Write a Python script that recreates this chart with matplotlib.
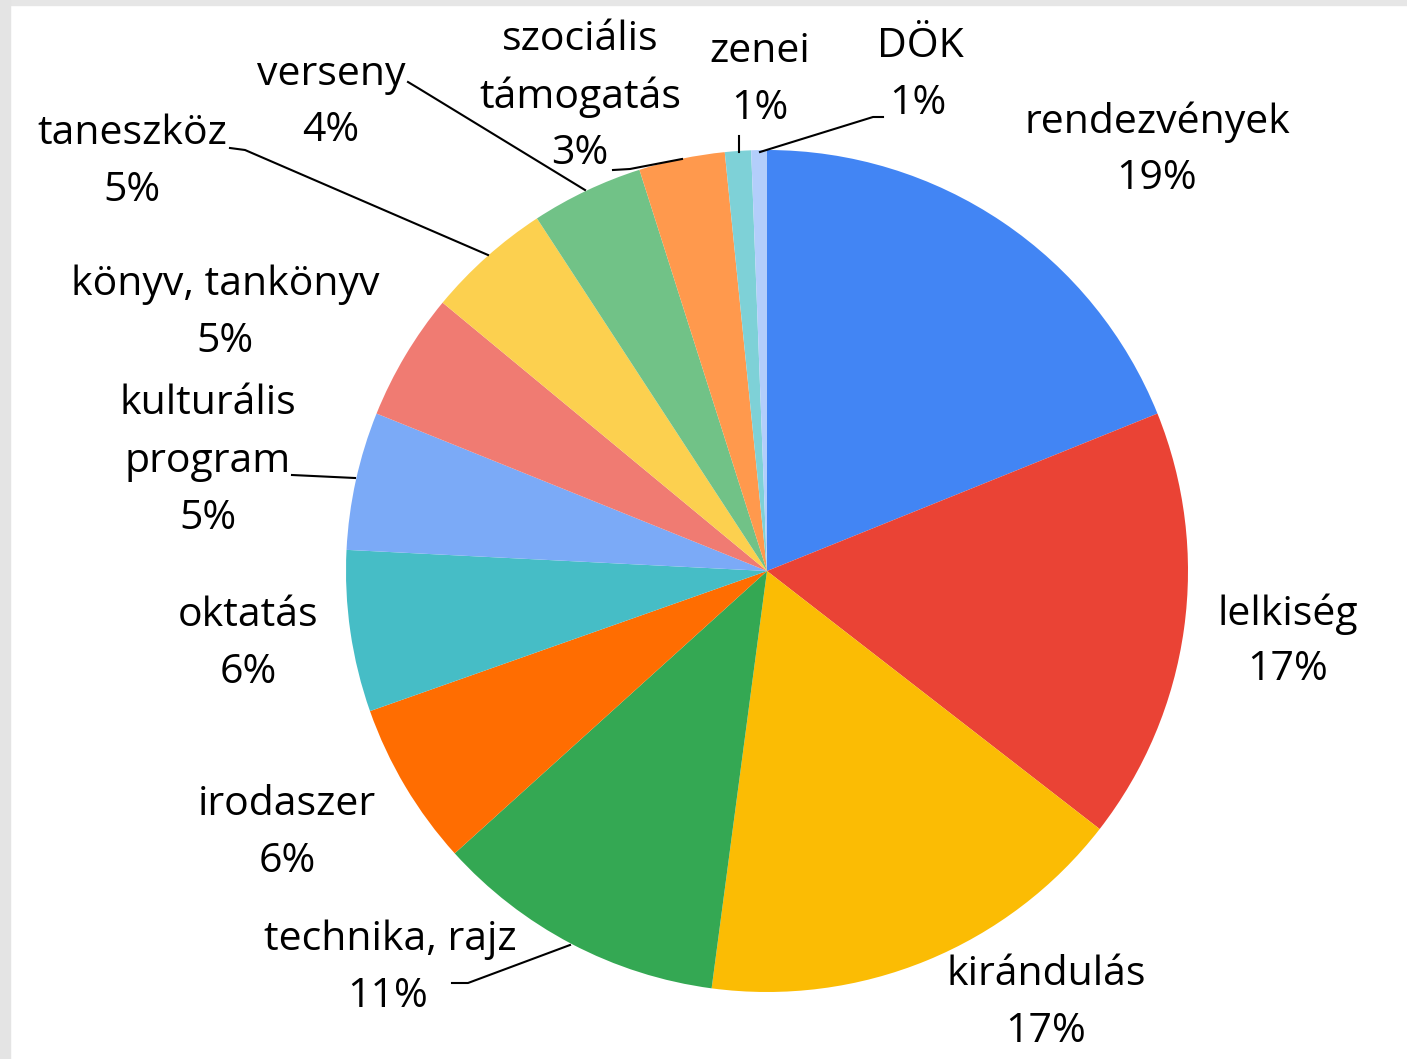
import numpy as np
import matplotlib.pyplot as plt
from matplotlib.patches import Rectangle

# slice data (clockwise from top)
categories = ['rendezvények', 'lelkiség', 'kirándulás', 'technika, rajz', 'irodaszer',
              'oktatás', 'kulturális program', 'könyv, tankönyv', 'taneszköz', 'verseny',
              'szociális támogatás', 'zenei', 'DÖK']
values = [18.9, 16.6, 16.6, 11.2, 6.3, 6.2, 5.3, 4.9, 4.8, 4.3, 3.3, 1.0, 0.6]
pct_labels = ['19%', '17%', '17%', '11%', '6%', '6%', '5%', '5%', '5%', '4%', '3%', '1%', '1%']
colors = ['#4285F4', '#EA4335', '#FBBC04', '#34A853', '#FF6D01', '#46BDC6', '#7BAAF7',
          '#F07B72', '#FCD04F', '#71C287', '#FF994D', '#7ED1D7', '#B3CEFB']

# label text lines and their pixel positions (center x, line y's)
label_lines = {
    'rendezvények': (['rendezvények'], 1157, [122]),
    'lelkiség': (['lelkiség'], 1288, [614]),
    'kirándulás': (['kirándulás'], 1046, [975]),
    'technika, rajz': (['technika, rajz'], 390, [940]),
    'irodaszer': (['irodaszer'], 287, [805]),
    'oktatás': (['oktatás'], 248, [616]),
    'kulturális program': (['kulturális', 'program'], 208, [404, 462]),
    'könyv, tankönyv': (['könyv, tankönyv'], 225, [285]),
    'taneszköz': (['taneszköz'], 132, [134]),
    'verseny': (['verseny'], 331, [75]),
    'szociális támogatás': (['szociális', 'támogatás'], 580, [40, 97]),
    'zenei': (['zenei'], 760, [52]),
    'DÖK': (['DÖK'], 920, [47]),
}
pct_pos = [(1157, 179), (1288, 670), (1046, 1032), (388, 997), (287, 862), (248, 673),
           (208, 519), (225, 342), (132, 191), (331, 131), (580, 154), (760, 109), (918, 104)]

# leader lines in pixels
leaders = [
    [(760, 152), (873, 117), (883, 117)],
    [(739, 136), (739, 152)],
    [(613, 170), (630, 169), (682, 159)],
    [(408, 82), (418, 88), (585, 190)],
    [(230, 148), (245, 150), (488, 255)],
    [(292, 475), (355, 478)],
    [(452, 983), (468, 983), (570, 945)],
]

W, H = 1407, 1059
cx, cy, R = 767, 571, 421


def px(x, y):
    return (x - cx) / R, (cy - y) / R


fig = plt.figure(figsize=(W / 100, H / 100), dpi=100)
ax = fig.add_axes([0, 0, 1, 1])

ax.pie(values, colors=colors, startangle=90, counterclock=False, radius=1,
       wedgeprops=dict(linewidth=0))
ax.set_xlim(-cx / R, (W - cx) / R)
ax.set_ylim((cy - H) / R, cy / R)
ax.set_aspect('equal')
ax.axis('off')

font = 'Open Sans'
fs = 29.5
for cat, pct, (px_x, px_y) in zip(categories, pct_labels, pct_pos):
    lines, lx, lys = label_lines[cat]
    for line, ly in zip(lines, lys):
        ax.text(*px(lx, ly), line, ha='center', va='center', fontsize=fs, family=font)
    ax.text(*px(px_x, px_y), pct, ha='center', va='center', fontsize=fs, family=font)

for pts in leaders:
    xs, ys = zip(*[px(x, y) for x, y in pts])
    ax.plot(xs, ys, color='black', linewidth=1.5)

# screenshot borders
fig.patches.append(Rectangle((0, 1 - 5 / H), 1, 5 / H, transform=fig.transFigure,
                             color='#e6e6e6', zorder=10))
fig.patches.append(Rectangle((0, 0), 10 / W, 1, transform=fig.transFigure,
                             color='#e4e4e4', zorder=10))

fig.savefig('out.png', dpi=100)
